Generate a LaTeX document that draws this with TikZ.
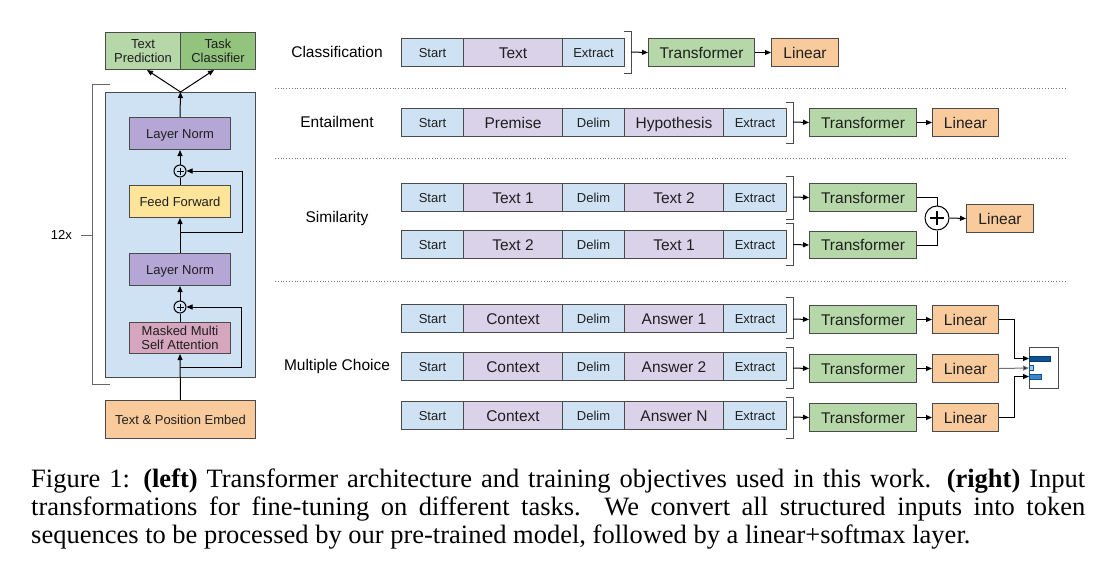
\documentclass[tikz,border=0pt]{standalone}
\usepackage{fontspec}
\setmainfont{Liberation Serif}
\newfontfamily\arial{Liberation Sans}
\usetikzlibrary{arrows.meta,calc}
\definecolor{bluebg}{HTML}{CFE2F3}
\definecolor{tokb}{HTML}{CFE2F3}
\definecolor{tokp}{HTML}{D9D2E9}
\definecolor{lnc}{HTML}{B4A7D6}
\definecolor{ffc}{HTML}{FFE599}
\definecolor{attc}{HTML}{D5A6BD}
\definecolor{embc}{HTML}{F9CB9C}
\definecolor{trc}{HTML}{B6D7A8}
\definecolor{tcc}{HTML}{93C47D}
\definecolor{linc}{HTML}{F9CB9C}
\definecolor{barA}{HTML}{0B5394}
\definecolor{barB}{HTML}{9FC5E8}
\definecolor{barC}{HTML}{3D85C6}
\definecolor{bord}{HTML}{4A4A4A}
\newcommand\Bx[8]{\node[bx,fill=#6,minimum width=#4,minimum height=#5,#7] (#1) at (#2,#3) {#8};}
\begin{document}
\begin{tikzpicture}[x=1pt,y=-1pt,
  bx/.style={draw=bord,line width=1pt,inner sep=0pt,anchor=north west,align=center,text=black!88},
  sm/.style={font=\arial\fontsize{13}{15.5}\selectfont},
  bg/.style={font=\arial\fontsize{15.5}{18}\selectfont},
  tS/.style={font=\arial\fontsize{13}{15}\selectfont,text height=9.3pt,text depth=0pt},
  tB/.style={font=\arial\fontsize{15.5}{18}\selectfont,text height=11.1pt,text depth=0pt},
  arr/.style={-{Triangle[length=6pt,width=5pt]},line width=1pt},
  ln/.style={line width=1pt},
  brk/.style={line width=1pt,draw=bord},
  dots/.style={dotted,line width=0.8pt,draw=black!55}]
\useasboundingbox (0,0) rectangle (1115,563);

% ---------------- left panel ----------------
\node[bx,fill=trc,minimum width=75,minimum height=37,sm] (tp) at (105,32) {Text\\[-2pt]Prediction};
\node[bx,fill=tcc,minimum width=75,minimum height=37,sm] (tcl) at (180,32) {Task\\[-2pt]Classifier};
\node[bx,fill=bluebg,minimum width=150,minimum height=285] (blk) at (105,92) {};
\Bx{ln2}{129}{117}{101}{32}{lnc}{tS}{Layer Norm}
\node[circle,draw=black,line width=1pt,inner sep=0pt,minimum size=12] (p2) at (180,171) {};
\Bx{ff}{129}{185}{101}{32}{ffc}{tS}{Feed Forward}
\Bx{ln1}{129}{253}{101}{32}{lnc}{tS}{Layer Norm}
\node[circle,draw=black,line width=1pt,inner sep=0pt,minimum size=12] (p1) at (180,307) {};
\node[bx,fill=attc,minimum width=101,minimum height=31,sm] (att) at (129,322) {Masked Multi\\[-2pt]Self Attention};
\Bx{emb}{105}{400}{150}{38}{embc}{tS}{Text \& Position Embed}
\foreach \p in {p1,p2}{
  \draw[ln] ($(\p.center)+(-3.5,0)$) -- ($(\p.center)+(3.5,0)$);
  \draw[ln] ($(\p.center)+(0,-3.5)$) -- ($(\p.center)+(0,3.5)$);
}
\draw[arr] (emb.north) -- (att.south);
\draw[ln] (att.north) -- (p1.south);
\draw[arr] (p1.north) -- (ln1.south);
\draw[arr] (ln1.north) -- (ff.south);
\draw[ln] (ff.north) -- (p2.south);
\draw[arr] (p2.north) -- (ln2.south);
\draw[arr] (ln2.north) -- (blk.north);
\draw[arr] (blk.north) -- ($(tp.south)+(4,0)$);
\draw[arr] (blk.north) -- ($(tcl.south)+(-4,0)$);
\coordinate (r1) at (180,367);
\coordinate (r2) at (180,232);
\draw[arr] (r1) -- ++(61,0) |- (p1.east);
\draw[arr] (r2) -- ++(62,0) |- (p2.east);
\draw[line width=1pt,draw=black!60] (110,84) -- (92,84) -- (92,384) -- (110,384);
\node[sm,anchor=east,inner sep=0pt] (rep) at (72,235) {12x};
\draw[line width=1pt,draw=black!60] ($(rep.east)+(9,0)$) -- (92,235);

% ---------------- dotted separators ----------------
\draw[dots] (275,88) -- (1067,88);
\draw[dots] (275,158) -- (1067,158);
\draw[dots] (275,281) -- (1067,281);

% ---------------- task labels ----------------
\node[bg] (lc) at (337,52) {Classification};
\node[bg] (le) at (337,122) {Entailment};
\node[bg] (ls) at (337,218) {Similarity};
\node[bg] (lm) at (337,366) {Multiple Choice};

% ---------------- Classification ----------------
\Bx{c1}{401}{38}{62}{28}{tokb}{tS}{Start}
\Bx{c2}{463}{38}{99}{28}{tokp}{tB}{Text}
\Bx{c3}{562}{38}{62}{28}{tokb}{tS}{Extract}
\draw[brk] (624,31) -- (631,31) -- (631,73) -- (624,73);
\coordinate (bc) at (631,52);
\Bx{ct}{648}{38}{106}{28}{trc}{tB}{Transformer}
\Bx{cl}{771}{38}{67}{28}{linc}{tB}{Linear}
\draw[arr] (bc) -- (ct.west);
\draw[arr] (ct.east) -- (cl.west);

% ---------------- Entailment ----------------
\Bx{e1}{401}{108}{62}{28}{tokb}{tS}{Start}
\Bx{e2}{463}{108}{99}{28}{tokp}{tB}{Premise}
\Bx{e3}{562}{108}{62}{28}{tokb}{tS}{Delim}
\Bx{e4}{624}{108}{99}{28}{tokp}{tB}{Hypothesis}
\Bx{e5}{723}{108}{63}{28}{tokb}{tS}{Extract}
\draw[brk] (786,102) -- (793,102) -- (793,143) -- (786,143);
\coordinate (be) at (793,122);
\Bx{et}{809}{108}{107}{28}{trc}{tB}{Transformer}
\Bx{el}{932}{108}{66}{28}{linc}{tB}{Linear}
\draw[arr] (be) -- (et.west);
\draw[arr] (et.east) -- (el.west);

% ---------------- Similarity ----------------
\Bx{sa1}{401}{183}{62}{28}{tokb}{tS}{Start}
\Bx{sa2}{463}{183}{99}{28}{tokp}{tB}{Text 1}
\Bx{sa3}{562}{183}{62}{28}{tokb}{tS}{Delim}
\Bx{sa4}{624}{183}{99}{28}{tokp}{tB}{Text 2}
\Bx{sa5}{723}{183}{63}{28}{tokb}{tS}{Extract}
\draw[brk] (786,176) -- (793,176) -- (793,219) -- (786,219);
\coordinate (bsa) at (793,197);
\Bx{sb1}{401}{230}{62}{28}{tokb}{tS}{Start}
\Bx{sb2}{463}{230}{99}{28}{tokp}{tB}{Text 2}
\Bx{sb3}{562}{230}{62}{28}{tokb}{tS}{Delim}
\Bx{sb4}{624}{230}{99}{28}{tokp}{tB}{Text 1}
\Bx{sb5}{723}{230}{63}{28}{tokb}{tS}{Extract}
\draw[brk] (786,223) -- (793,223) -- (793,265) -- (786,265);
\coordinate (bsb) at (793,244.5);
\Bx{sta}{809}{183}{107}{28}{trc}{tB}{Transformer}
\Bx{stb}{809}{231}{107}{27}{trc}{tB}{Transformer}
\node[circle,draw=black,line width=1pt,fill=white,inner sep=0pt,minimum size=24] (sp) at (937,218) {};
\draw[line width=1.6pt] ($(sp.center)+(-7,0)$) -- ($(sp.center)+(7,0)$);
\draw[line width=1.6pt] ($(sp.center)+(0,-7)$) -- ($(sp.center)+(0,7)$);
\Bx{sl}{966}{204}{67}{28}{linc}{tB}{Linear}
\draw[arr] (bsa) -- (sta.west);
\draw[arr] (bsb) -- (stb.west);
\draw[ln] (sta.east) -| (sp.north);
\draw[ln] (stb.east) -| (sp.south);
\draw[arr] (sp.east) -- (sl.west);

% ---------------- Multiple Choice ----------------
\foreach \r/\y/\by/\ty/\ans in {1/304/297/305/Answer 1,2/352/347/354/Answer 2,3/401/397/403/Answer N}{
  \Bx{m\r a}{401}{\y}{62}{28}{tokb}{tS}{Start}
  \Bx{m\r b}{463}{\y}{99}{28}{tokp}{tB}{Context}
  \Bx{m\r c}{562}{\y}{62}{28}{tokb}{tS}{Delim}
  \Bx{m\r d}{624}{\y}{99}{28}{tokp}{tB}{\ans}
  \Bx{m\r e}{723}{\y}{63}{28}{tokb}{tS}{Extract}
  \draw[brk] (786,\by) -- (793,\by) -- (793,\by+41) -- (786,\by+41);
  \Bx{m\r t}{809}{\ty}{107}{28}{trc}{tB}{Transformer}
  \Bx{m\r l}{932}{\ty}{66}{28}{linc}{tB}{Linear}
  \coordinate (bm\r) at (793,\ty+14);
  \draw[arr] (bm\r) -- (m\r t.west);
  \draw[arr] (m\r t.east) -- (m\r l.west);
}
\node[bx,fill=white,minimum width=29,minimum height=41] (smx) at (1029,347) {};
\draw[draw=barA!70!black,fill=barA,line width=0.6pt] (1029,356) rectangle (1050,361);
\draw[draw=barA,fill=barB,line width=0.6pt] (1029,365.5) rectangle (1033,370.5);
\draw[draw=barA,fill=barC,line width=0.6pt] (1029,374) rectangle (1041,379);
\coordinate (in1) at (1029,358.5);
\coordinate (in2) at (1029,368);
\coordinate (in3) at (1029,376.5);
\draw[arr] (m1l.east) -- ++(15,0) |- (in1);
\draw[arr,draw=black!55,-{Triangle[length=6pt,width=5pt,fill=black]}] (m2l.east) -- (in2);
\draw[arr] (m3l.east) -- ++(15,0) |- (in3);

% ---------------- caption ----------------
\node[anchor=north west,inner sep=0pt,text width=1054pt,align=justify,
      font=\fontsize{26.5}{28}\selectfont] (cap) at (31,469)
 {\hyphenpenalty=10000 Figure 1: \textbf{(left)} Transformer architecture and training objectives used in this work. \textbf{(right)} Input\linebreak
 transformations for fine-tuning on different tasks. We convert all structured inputs into token\linebreak
 sequences to be processed by our pre-trained model, followed by a linear+softmax layer.};
\end{tikzpicture}
\end{document}
